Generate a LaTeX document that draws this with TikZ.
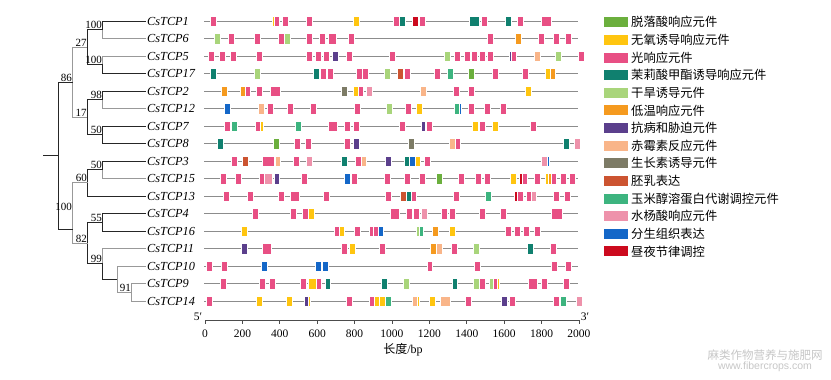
\documentclass[tikz,border=0pt]{standalone}
\usepackage{fontspec}
\setmainfont{Liberation Serif}
\newfontfamily\cjk{Noto Sans CJK SC}
\newfontfamily\wmsans{Liberation Sans}
\definecolor{aba}{HTML}{6BAF3D}
\definecolor{anx}{HTML}{FFC510}
\definecolor{lt}{HTML}{E84F84}
\definecolor{meja}{HTML}{10806F}
\definecolor{drt}{HTML}{A9D57B}
\definecolor{ltr}{HTML}{F59A1F}
\definecolor{dis}{HTML}{5B3F8C}
\definecolor{ga}{HTML}{F9B589}
\definecolor{aux}{HTML}{7D7B66}
\definecolor{endo}{HTML}{CC5431}
\definecolor{zein}{HTML}{3DB47F}
\definecolor{sa}{HTML}{EE92AB}
\definecolor{mer}{HTML}{1467C8}
\definecolor{circ}{HTML}{CC0A1E}
\newcommand\generow[2]{%
  \draw[geneline] (204,#1) -- (578,#1);
  \foreach \x/\c/\w in {#2}{\filldraw[elem,fill=\c] (\x-\w/2,#1-5.25) rectangle (\x+\w/2,#1+5.25);}}
\begin{document}
\begin{tikzpicture}[x=1pt,y=-1pt,
  tb/.style={draw=black!85,line width=1pt},
  tg/.style={draw=black!40,line width=1pt},
  genelabel/.style={anchor=west,font=\fontsize{12.3}{14}\selectfont\itshape,inner sep=1pt},
  boot/.style={anchor=south east,font=\fontsize{11}{12}\selectfont,inner sep=0.6pt},
  geneline/.style={draw=black!45,line width=1pt},
  elem/.style={draw=white,line width=0.4pt},
  legtext/.style={anchor=west,font=\cjk\fontsize{12.3}{14}\selectfont,inner sep=1pt},
  ticklab/.style={font=\fontsize{11.5}{13}\selectfont,inner sep=0pt},
  wm/.style={text=black!22,inner sep=0pt}]
\useasboundingbox (0,0) rectangle (831,380);
\fill[white] (0,0) rectangle (831,380);
% ---------- gene labels ----------
\node[genelabel] (g1)  at (146,21)    {CsTCP1};
\node[genelabel] (g6)  at (146,38.5)  {CsTCP6};
\node[genelabel] (g5)  at (146,56)    {CsTCP5};
\node[genelabel] (g17) at (146,73.5)  {CsTCP17};
\node[genelabel] (g2)  at (146,91)    {CsTCP2};
\node[genelabel] (g12) at (146,108.5) {CsTCP12};
\node[genelabel] (g7)  at (146,126)   {CsTCP7};
\node[genelabel] (g8)  at (146,143.5) {CsTCP8};
\node[genelabel] (g3)  at (146,161)   {CsTCP3};
\node[genelabel] (g15) at (146,178.5) {CsTCP15};
\node[genelabel] (g13) at (146,196)   {CsTCP13};
\node[genelabel] (g4)  at (146,213.5) {CsTCP4};
\node[genelabel] (g16) at (146,231)   {CsTCP16};
\node[genelabel] (g11) at (146,248.5) {CsTCP11};
\node[genelabel] (g10) at (146,266)   {CsTCP10};
\node[genelabel] (g9)  at (146,283.5) {CsTCP9};
\node[genelabel] (g14) at (146,301)   {CsTCP14};
% ---------- tree nodes ----------
\coordinate (na)   at (102.7,29.75);
\coordinate (nb)   at (102.7,64.75);
\coordinate (n27)  at (87.3,47.25);
\coordinate (n98)  at (102.7,99.75);
\coordinate (nc)   at (102.7,134.75);
\coordinate (n17)  at (87.3,117.25);
\coordinate (n86)  at (72.7,82.25);
\coordinate (nd)   at (102.7,169.75);
\coordinate (n60)  at (87.7,182.9);
\coordinate (n55)  at (102.7,222.25);
\coordinate (n91)  at (131.7,292.25);
\coordinate (nx)   at (117.3,279.1);
\coordinate (n99)  at (102.7,263.8);
\coordinate (n82)  at (87.7,243);
\coordinate (ne)   at (72.7,229);
\coordinate (root) at (58.3,155.6);
\coordinate (stem) at (43.3,155.6);
% ---------- tree edges ----------
\draw[tb] (na) |- (g1.west);
\draw[tg] (na) |- (g6.west);
\draw[tg] (nb) |- (g5.west);
\draw[tb] (nb) |- (g17.west);
\draw[tb] (n27) |- (na);
\draw[tb] (n27) |- (nb);
\draw[tb] (n98) |- (g2.west);
\draw[tg] (n98) |- (g12.west);
\draw[tb] (nc) |- (g7.west);
\draw[tb] (nc) |- (g8.west);
\draw[tb] (n17) |- (n98);
\draw[tb] (n17) |- (nc);
\draw[tg] (n86) |- (n27);
\draw[tg] (n86) |- (n17);
\draw[tb] (nd) |- (g3.west);
\draw[tg] (nd) |- (g15.west);
\draw[tb] (n60) |- (nd);
\draw[tb] (n60) |- (g13.west);
\draw[tb] (n55) |- (g4.west);
\draw[tb] (n55) |- (g16.west);
\draw[tg] (n91) |- (g9.west);
\draw[tg] (n91) |- (g14.west);
\draw[tg] (nx) |- (g10.west);
\draw[tg] (nx) |- (n91);
\draw[tg] (n99) |- (g11.west);
\draw[tb] (n99) |- (nx);
\draw[tb] (n82) |- (n55);
\draw[tb] (n82) |- (n99);
\draw[tg] (ne) |- (n60);
\draw[tg] (ne) |- (n82);
\draw[tb] (root) |- (n86);
\draw[tb] (root) |- (ne);
\draw[tb] (stem) -- (root);
% ---------- bootstrap values ----------
\node[boot] (b1) at (na)  {100};
\node[boot] (b2) at (nb)  {100};
\node[boot] (b3) at (n27) {27};
\node[boot] (b4) at (n98) {98};
\node[boot] (b5) at (nc)  {50};
\node[boot] (b6) at (n17) {17};
\node[boot] (b7) at (n86) {86};
\node[boot] (b8) at (nd)  {50};
\node[boot] (b9) at (n60) {60};
\node[boot] (b10) at (72.7,211) {100};
\node[boot] (b11) at (n55) {55};
\node[boot] (b12) at (n82) {82};
\node[boot] (b13) at (n99) {99};
\node[boot] (b14) at (n91) {91};
% ---------- gene structures ----------
\generow{21}{213.3/lt/6,276/lt/6,272.8/anx/2,285/lt/6,309.3/lt/6,356/anx/6,395.7/lt/6,402/meja/6,415.3/circ/6,422/lt/6,474.3/meja/10,484/lt/6,507.7/meja/6,520/lt/6,546/lt/10}
\generow{38.5}{216.7/drt/6,231/lt/6,257/lt/6,280.7/lt/6,287.3/drt/6,308.7/lt/6,322/lt/6,332/lt/8,351.3/lt/6,490/lt/6,518.3/ltr/6,540.7/lt/6,556/lt/6,568/lt/6}
\generow{56}{210.7/lt/6,222.3/lt/6,232.7/lt/6,259/lt/6,309.3/lt/6,318/lt/6,326/lt/6,335/dis/6,348.7/lt/6,391.7/lt/6,447.3/drt/6,456.7/lt/6,466.7/lt/6,474.3/lt/6,482.3/lt/6,489.7/lt/6,513.3/lt/6,510.5/dis/2,536.7/ga/6,557.7/drt/6,580.7/lt/6}
\generow{73.5}{213.3/meja/6,257.3/drt/6,316/meja/6,323.3/lt/6,330/lt/6,359/lt/6,364.7/lt/6,387.3/drt/6,400/endo/6,407.3/lt/6,437.3/lt/6,450/zein/6,470.7/aba/6,495/lt/6,525/lt/6,547.3/anx/5,552.7/ltr/5}
\generow{91}{224/ltr/6,243.3/ltr/6,247.7/lt/5,259/lt/6,274.7/lt/10,344/aux/6,355.7/anx/6,361/lt/5,369/sa/6,423.3/ga/6,455.7/lt/6,471/lt/6,528.3/anx/6}
\generow{108.5}{226.7/mer/6,261/ga/6,270/lt/6,290/lt/6,313.3/lt/6,356.7/lt/6,389.3/drt/6,408.3/lt/6,419/anx/6,456.7/zein/6,460/mer/2,470.7/lt/6,487.3/lt/6,502.7/lt/6}
\generow{126}{226.7/lt/6,234/zein/6,257.7/lt/6,261.5/anx/2.5,298.3/zein/6,332.7/lt/9,346.7/lt/6,355.7/lt/6,401.7/lt/6,423.5/dis/4,428.7/lt/6,475/anx/6,482/lt/6,495/anx/6,532.7/lt/6}
\generow{143.5}{220/meja/6,276/aba/6,296.7/lt/6,307.7/lt/6,346.7/lt/6,355.7/dis/6,411.3/aux/6,452.3/ga/6,457.7/lt/5,566/meja/6,576.7/sa/6}
\generow{161}{234/lt/6,244.7/endo/6,268.3/lt/12,277.3/ga/5,295.7/lt/6,308.7/sa/6,344.3/meja/6,358.3/lt/6,364/ga/5,387.7/dis/6,407/meja/5.3,412.3/mer/5.3,417.3/anx/5,426.7/lt/6,544.3/sa/6,548.3/mer/2}
\generow{178.5}{223.3/lt/6,238.3/lt/6,261.7/lt/6,268.3/sa/8,276.3/dis/5,304/lt/6,346.7/mer/6,354.3/lt/6,386.7/lt/6,406.7/lt/6,422.3/lt/6,438.7/aba/6,460.7/lt/6,478.3/lt/6,487.3/lt/6,513.3/anx/6,524/lt/6,520.7/circ/3,537.3/lt/6,546.7/anx/4,550/ltr/4,554/lt/5,562.7/lt/6,571.7/lt/6}
\generow{196}{226/lt/6,250/lt/6,280.7/lt/6,295/lt/9,326/lt/6,388.3/lt/6,402.7/endo/6,408.3/meja/5,413.3/lt/5,456/lt/6,488.3/zein/6,520/lt/6,516/circ/3,529.3/lt/6,533.3/sa/5,556/lt/6,566.7/lt/6}
\generow{213.5}{255.3/lt/6,293.3/lt/6,305.3/lt/6,311/anx/6,395/lt/9,409/lt/6,415.7/lt/6,424/sa/6,443.7/lt/6,452.3/lt/6,481.7/lt/6,502.7/lt/6,556.7/lt/11}
\generow{231}{244/anx/6,336.7/lt/6,342/anx/5,356.7/lt/6,371.7/lt/5,376/lt/5,380.7/mer/5,418.5/drt/4,421.5/zein/4,435/ltr/6,451.7/anx/6,508.3/lt/6,516.7/lt/6,525.7/lt/6,536.7/lt/6}
\generow{248.5}{243.7/dis/6,266.7/lt/9,344.3/lt/6,352/anx/6,382.3/lt/6,433.3/ltr/6,439.3/ga/6,454/lt/6,476/drt/6,530/meja/6,553.3/lt/6}
\generow{266}{209.3/lt/6,224/lt/6,264/mer/6,318/mer/6,324.7/mer/6,430/lt/5,476.7/lt/6,554/lt/6,567.7/lt/6}
\generow{283.5}{223.3/lt/6,261.7/lt/6,272/lt/6,303.3/lt/6,312/anx/8,318.3/lt/5,328/meja/5,384.3/meja/6,405.7/drt/6,455/meja/5,476/drt/6,482/lt/6,492/drt/5,495.3/lt/4,497.7/anx/2,532.3/lt/9,544/lt/6,566/lt/6}
\generow{301}{209.3/lt/6,258.7/anx/6,288.7/anx/6,306.7/dis/5,309.3/anx/2,349.3/lt/6,371.7/lt/6,376.7/anx/5.5,382.3/anx/5.5,387.7/zein/6,415/ga/6,418.3/anx/2,432.3/anx/6,445/ga/10,468.3/lt/6,503.7/dis/6,511.7/lt/6,555.7/lt/6,563.3/zein/6,579/sa/6}
% ---------- axis ----------
\coordinate (ax0) at (205,320);
\coordinate (ax1) at (579,320);
\draw[black!70,line width=0.8pt] (ax0) -- (ax1);
\foreach \v in {0,200,...,2000}{
  \draw[black!70,line width=0.8pt] ({205+0.187*\v},320) -- ({205+0.187*\v},323.5);
  \node[ticklab] at ({205+0.187*\v},334) {\v};}
\node[ticklab] (p5) at (198,316.5) {5′};
\node[ticklab] (p3) at (585,316.5) {3′};
\node[font=\fontsize{12}{14}\selectfont,inner sep=0pt] (xl) at (403,350) {{\cjk 长度}/bp};
% ---------- legend ----------
\foreach \c/\t [count=\k from 0] in {aba/脱落酸响应元件,anx/无氧诱导响应元件,lt/光响应元件,meja/茉莉酸甲酯诱导响应元件,drt/干旱诱导元件,ltr/低温响应元件,dis/抗病和胁迫元件,ga/赤霉素反应元件,aux/生长素诱导元件,endo/胚乳表达,zein/玉米醇溶蛋白代谢调控元件,sa/水杨酸响应元件,mer/分生组织表达,circ/昼夜节律调控}{
  \fill[\c] (604,{22.3+17.63*\k-5}) rectangle (628,{22.3+17.63*\k+5});
  \node[legtext] (leg\k) at (630,{22.3+17.63*\k}) {\t};}
% ---------- watermark ----------
\node[wm,font=\cjk\fontsize{11.5}{13}\selectfont] (wm1) at (765,355) {麻类作物营养与施肥网};
\node[wm,font=\wmsans\fontsize{10.5}{12}\selectfont] (wm2) at (765,367) {www.fibercrops.com};
\end{tikzpicture}
\end{document}
